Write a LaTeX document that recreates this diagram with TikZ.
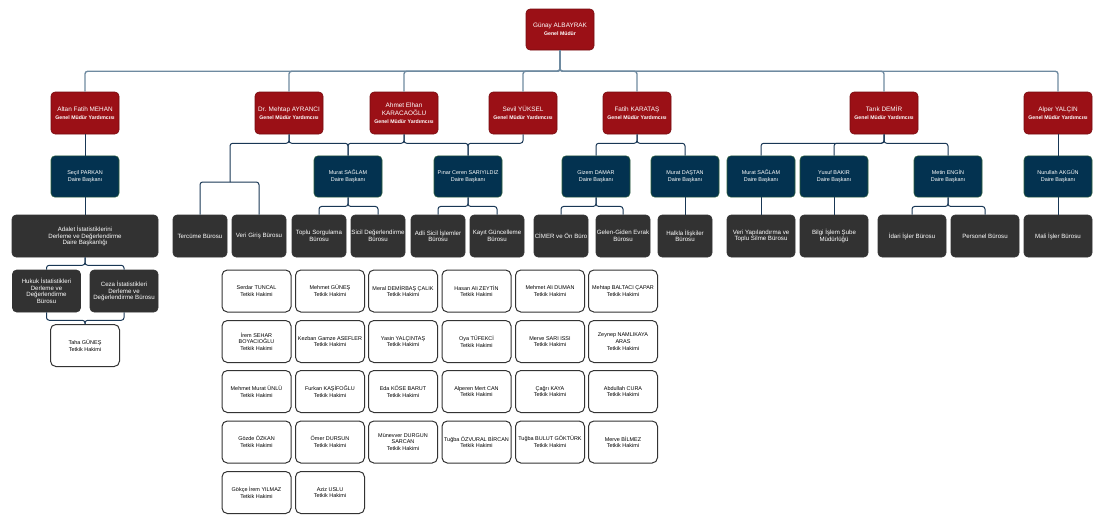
\documentclass[tikz,border=0pt]{standalone}
\usepackage{fontspec}
\setmainfont{Liberation Sans}
\usepackage{xcolor}
\usepackage{tikz}
\definecolor{gmyred}{RGB}{155,16,22}
\definecolor{dbnavy}{RGB}{3,50,80}
\definecolor{dbline}{RGB}{45,95,60}
\definecolor{burgray}{RGB}{50,50,50}
\definecolor{linkdark}{RGB}{25,55,85}
\definecolor{linklight}{RGB}{110,138,160}
\newcommand{\unvan}[1]{{\fontsize{3.9}{5}\selectfont\bfseries #1}}
\tikzstyle{gmybox} = [rectangle, rounded corners=3pt, minimum width=51pt, minimum height=31.5pt, inner sep=0pt, align=center, fill=gmyred, draw=gmyred!75!black, line width=0.4pt, text=white, font=\fontsize{4.8}{6}\selectfont]
\tikzstyle{dbbox} = [rectangle, rounded corners=3pt, minimum width=51pt, minimum height=31pt, inner sep=0pt, align=center, fill=dbnavy, draw=dbline, line width=0.4pt, text=white, font=\fontsize{4.1}{5}\selectfont]
\tikzstyle{burobox} = [rectangle, rounded corners=3pt, minimum width=40.5pt, minimum height=31.5pt, inner sep=0pt, align=center, fill=burgray, draw=burgray, line width=0.4pt, text=white, font=\fontsize{4.6}{5}\selectfont]
\tikzstyle{thbox} = [rectangle, rounded corners=4pt, minimum width=51.75pt, minimum height=31.5pt, inner sep=0pt, align=center, fill=white, draw=black!80, line width=0.75pt, text=black, font=\fontsize{4.1}{5}\selectfont]
\tikzstyle{link} = [draw=linkdark, line width=0.75pt, rounded corners=2pt]
\tikzstyle{toplink} = [draw=linklight, line width=1pt, rounded corners=2pt]

\begin{document}
\begin{tikzpicture}[x=0.75pt, y=-0.75pt]
\useasboundingbox (0,0) rectangle (1100,522);

%Genel Mudur==============================================
\node (gm) [gmybox, minimum height=30.75pt] at (560,29.5) {Günay ALBAYRAK\\\unvan{Genel Müdür}};

%Genel Mudur Yardimcilari==============================================
\node (gmy1) [gmybox] at (85,113) {Altan Fatih MEHAN\\\unvan{Genel Müdür Yardımcısı}};
\node (gmy2) [gmybox] at (289,113) {Dr. Mehtap AYRANCI\\\unvan{Genel Müdür Yardımcısı}};
\node (gmy3) [gmybox] at (404,113) {Ahmet Elhan\\KARACAOĞLU\\\unvan{Genel Müdür Yardımcısı}};
\node (gmy4) [gmybox] at (523,113) {Sevil YÜKSEL\\\unvan{Genel Müdür Yardımcısı}};
\node (gmy5) [gmybox] at (637,113) {Fatih KARATAŞ\\\unvan{Genel Müdür Yardımcısı}};
\node (gmy6) [gmybox] at (884,113) {Tarık DEMİR\\\unvan{Genel Müdür Yardımcısı}};
\node (gmy7) [gmybox] at (1058,113) {Alper YALÇIN\\\unvan{Genel Müdür Yardımcısı}};

%Daire Baskanlari==============================================
\node (db1) [dbbox] at (85,176.5) {Seçil PARKAN\\Daire Başkanı};
\node (db2) [dbbox] at (348,176.5) {Murat SAĞLAM\\Daire Başkanı};
\node (db3) [dbbox] at (468,176.5) {Pınar Ceren SARIYILDIZ\\Daire Başkanı};
\node (db4) [dbbox] at (596,176.5) {Gizem DAMAR\\Daire Başkanı};
\node (db5) [dbbox] at (685,176.5) {Murat DAŞTAN\\Daire Başkanı};
\node (db6) [dbbox] at (761,176.5) {Murat SAĞLAM\\Daire Başkanı};
\node (db7) [dbbox] at (834,176.5) {Yusuf BAKIR\\Daire Başkanı};
\node (db8) [dbbox] at (948,176.5) {Metin ENGİN\\Daire Başkanı};
\node (db9) [dbbox] at (1058,176.5) {Nurullah AKGÜN\\Daire Başkanı};

%Burolar==============================================
\node (bur1) [burobox, minimum width=109.5pt] at (85,236) {Adalet İstatistiklerini\\Derleme ve Değerlendirme\\Daire Başkanlığı};
\node (bur2) [burobox] at (200,236) {Tercüme Bürosu};
\node (bur3) [burobox] at (259,236) {Veri Giriş Bürosu};
\node (bur4) [burobox] at (319,236) {Toplu Sorgulama\\Bürosu};
\node (bur5) [burobox] at (378,236) {Sicil Değerlendirme\\Bürosu};
\node (bur6) [burobox] at (438,236) {Adli Sicil İşlemler\\Bürosu};
\node (bur7) [burobox] at (497,236) {Kayıt Güncelleme\\Bürosu};
\node (bur8) [burobox] at (561,236) {CİMER ve Ön Büro};
\node (bur9) [burobox] at (623,236) {Gelen-Giden Evrak\\Bürosu};
\node (bur10) [burobox] at (685,236) {Halkla İlişkiler\\Bürosu};
\node (bur11) [burobox, minimum width=51pt] at (761,236) {Veri Yapılandırma ve\\Toplu Silme Bürosu};
\node (bur12) [burobox, minimum width=51pt] at (834,236) {Bilgi İşlem Şube\\Müdürlüğü};
\node (bur13) [burobox, minimum width=51pt] at (912,236) {İdari İşler Bürosu};
\node (bur14) [burobox, minimum width=51pt] at (985,236) {Personel Bürosu};
\node (bur15) [burobox, minimum width=51pt] at (1058,236) {Mali İşler Bürosu};
\node (bur16) [burobox, minimum width=51pt] at (46.5,291) {Hukuk İstatistikleri\\Derleme ve\\Değerlendirme\\Bürosu};
\node (bur17) [burobox, minimum width=51pt] at (124,291) {Ceza İstatistikleri\\Derleme ve\\Değerlendirme Bürosu};

%Tetkik Hakimleri==============================================
\node (th0) [thbox] at (85,345.5) {Taha GÜNEŞ\\Tetkik Hakimi};

\node (th1) [thbox] at (256.5,291) {Serdar TUNCAL\\Tetkik Hakimi};
\node (th2) [thbox] at (330,291) {Mehmet GÜNEŞ\\Tetkik Hakimi};
\node (th3) [thbox] at (403,291) {Meral DEMİRBAŞ ÇALIK\\Tetkik Hakimi};
\node (th4) [thbox] at (476.5,291) {Hasan Ali ZEYTİN\\Tetkik Hakimi};
\node (th5) [thbox] at (550,291) {Mehmet Ali DUMAN\\Tetkik Hakimi};
\node (th6) [thbox] at (623,291) {Mehtap BALTACI ÇAPAR\\Tetkik Hakimi};

\node (th7) [thbox] at (256.5,341.5) {İrem SEHAR\\BOYACIOĞLU\\Tetkik Hakimi};
\node (th8) [thbox] at (330,341.5) {Kezban Gamze ASEFLER\\Tetkik Hakimi};
\node (th9) [thbox] at (403,341.5) {Yasin YALÇINTAŞ\\Tetkik Hakimi};
\node (th10) [thbox] at (476.5,341.5) {Oya TÜFEKCİ\\Tetkik Hakimi};
\node (th11) [thbox] at (550,341.5) {Merve SARI ISSI\\Tetkik Hakimi};
\node (th12) [thbox] at (623,341.5) {Zeynep NAMLIKAYA\\ARAS\\Tetkik Hakimi};

\node (th13) [thbox] at (256.5,391.5) {Mehmet Murat ÜNLÜ\\Tetkik Hakimi};
\node (th14) [thbox] at (330,391.5) {Furkan KAŞİFOĞLU\\Tetkik Hakimi};
\node (th15) [thbox] at (403,391.5) {Eda KÖSE BARUT\\Tetkik Hakimi};
\node (th16) [thbox] at (476.5,391.5) {Alperen Mert CAN\\Tetkik Hakimi};
\node (th17) [thbox] at (550,391.5) {Çağrı KAYA\\Tetkik Hakimi};
\node (th18) [thbox] at (623,391.5) {Abdullah CURA\\Tetkik Hakimi};

\node (th19) [thbox] at (256.5,442) {Gözde ÖZKAN\\Tetkik Hakimi};
\node (th20) [thbox] at (330,442) {Ömer DURSUN\\Tetkik Hakimi};
\node (th21) [thbox] at (403,442) {Münevver DURGUN\\SARCAN\\Tetkik Hakimi};
\node (th22) [thbox] at (476.5,442) {Tuğba ÖZVURAL BİRCAN\\Tetkik Hakimi};
\node (th23) [thbox] at (550,442) {Tuğba BULUT GÖKTÜRK\\Tetkik Hakimi};
\node (th24) [thbox] at (623,442) {Merve BİLMEZ\\Tetkik Hakimi};

\node (th25) [thbox] at (256.5,492.5) {Gökçe İrem YILMAZ\\Tetkik Hakimi};
\node (th26) [thbox] at (330,492.5) {Aziz USLU\\Tetkik Hakimi};

%Baglantilar==============================================
\draw [toplink] (gm.south) -- ++(0,21) -| (gmy1.north);
\draw [toplink] (gm.south) -- ++(0,21) -| (gmy2.north);
\draw [toplink] (gm.south) -- ++(0,21) -| (gmy3.north);
\draw [toplink] (gm.south) -- ++(0,21) -| (gmy4.north);
\draw [toplink] (gm.south) -- ++(0,21) -| (gmy5.north);
\draw [toplink] (gm.south) -- ++(0,21) -| (gmy6.north);
\draw [toplink] (gm.south) -- ++(0,21) -| (gmy7.north);

\draw [link] (gmy1.south) -- (db1.north);
\coordinate (mjoin) at (230,182);
\draw [link] (gmy2.south) -- ++(0,9) -| (mjoin);
\draw [link] (mjoin) -| (bur2.north);
\draw [link] (mjoin) -| (bur3.north);
\draw [link] (gmy2.south) -- ++(0,9) -| (db2.north);
\draw [link] (gmy3.south) -- ++(0,9) -| (db2.north);
\draw [link] (gmy3.south) -- ++(0,9) -| (db3.north);
\draw [link] (gmy4.south) -- ++(0,9) -| (db3.north);
\draw [link] (gmy5.south) -- ++(0,9) -| (db4.north);
\draw [link] (gmy5.south) -- ++(0,9) -| (db5.north);
\draw [link] (gmy6.south) -- ++(0,9) -| (db6.north);
\draw [link] (gmy6.south) -- ++(0,9) -| (db7.north);
\draw [link] (gmy6.south) -- ++(0,9) -| (db8.north);
\draw [link] (gmy7.south) -- (db9.north);

\draw [link] (db1.south) -- (bur1.north);
\draw [link] (db2.south) -- ++(0,9) -| (bur4.north);
\draw [link] (db2.south) -- ++(0,9) -| (bur5.north);
\draw [link] (db3.south) -- ++(0,9) -| (bur6.north);
\draw [link] (db3.south) -- ++(0,9) -| (bur7.north);
\draw [link] (db4.south) -- ++(0,9) -| (bur8.north);
\draw [link] (db4.south) -- ++(0,9) -| (bur9.north);
\draw [link] (db5.south) -- (bur10.north);
\draw [link] (db6.south) -- (bur11.north);
\draw [link] (db7.south) -- (bur12.north);
\draw [link] (db8.south) -- ++(0,9) -| (bur13.north);
\draw [link] (db8.south) -- ++(0,9) -| (bur14.north);
\draw [link] (db9.south) -- (bur15.north);

\draw [link] (bur1.south) -- ++(0,8) -| (bur16.north);
\draw [link] (bur1.south) -- ++(0,8) -| (bur17.north);
\draw [link] (bur16.south) -- ++(0,8) -| (th0.north);
\draw [link] (bur17.south) -- ++(0,8) -| (th0.north);
\end{tikzpicture}
\end{document}
